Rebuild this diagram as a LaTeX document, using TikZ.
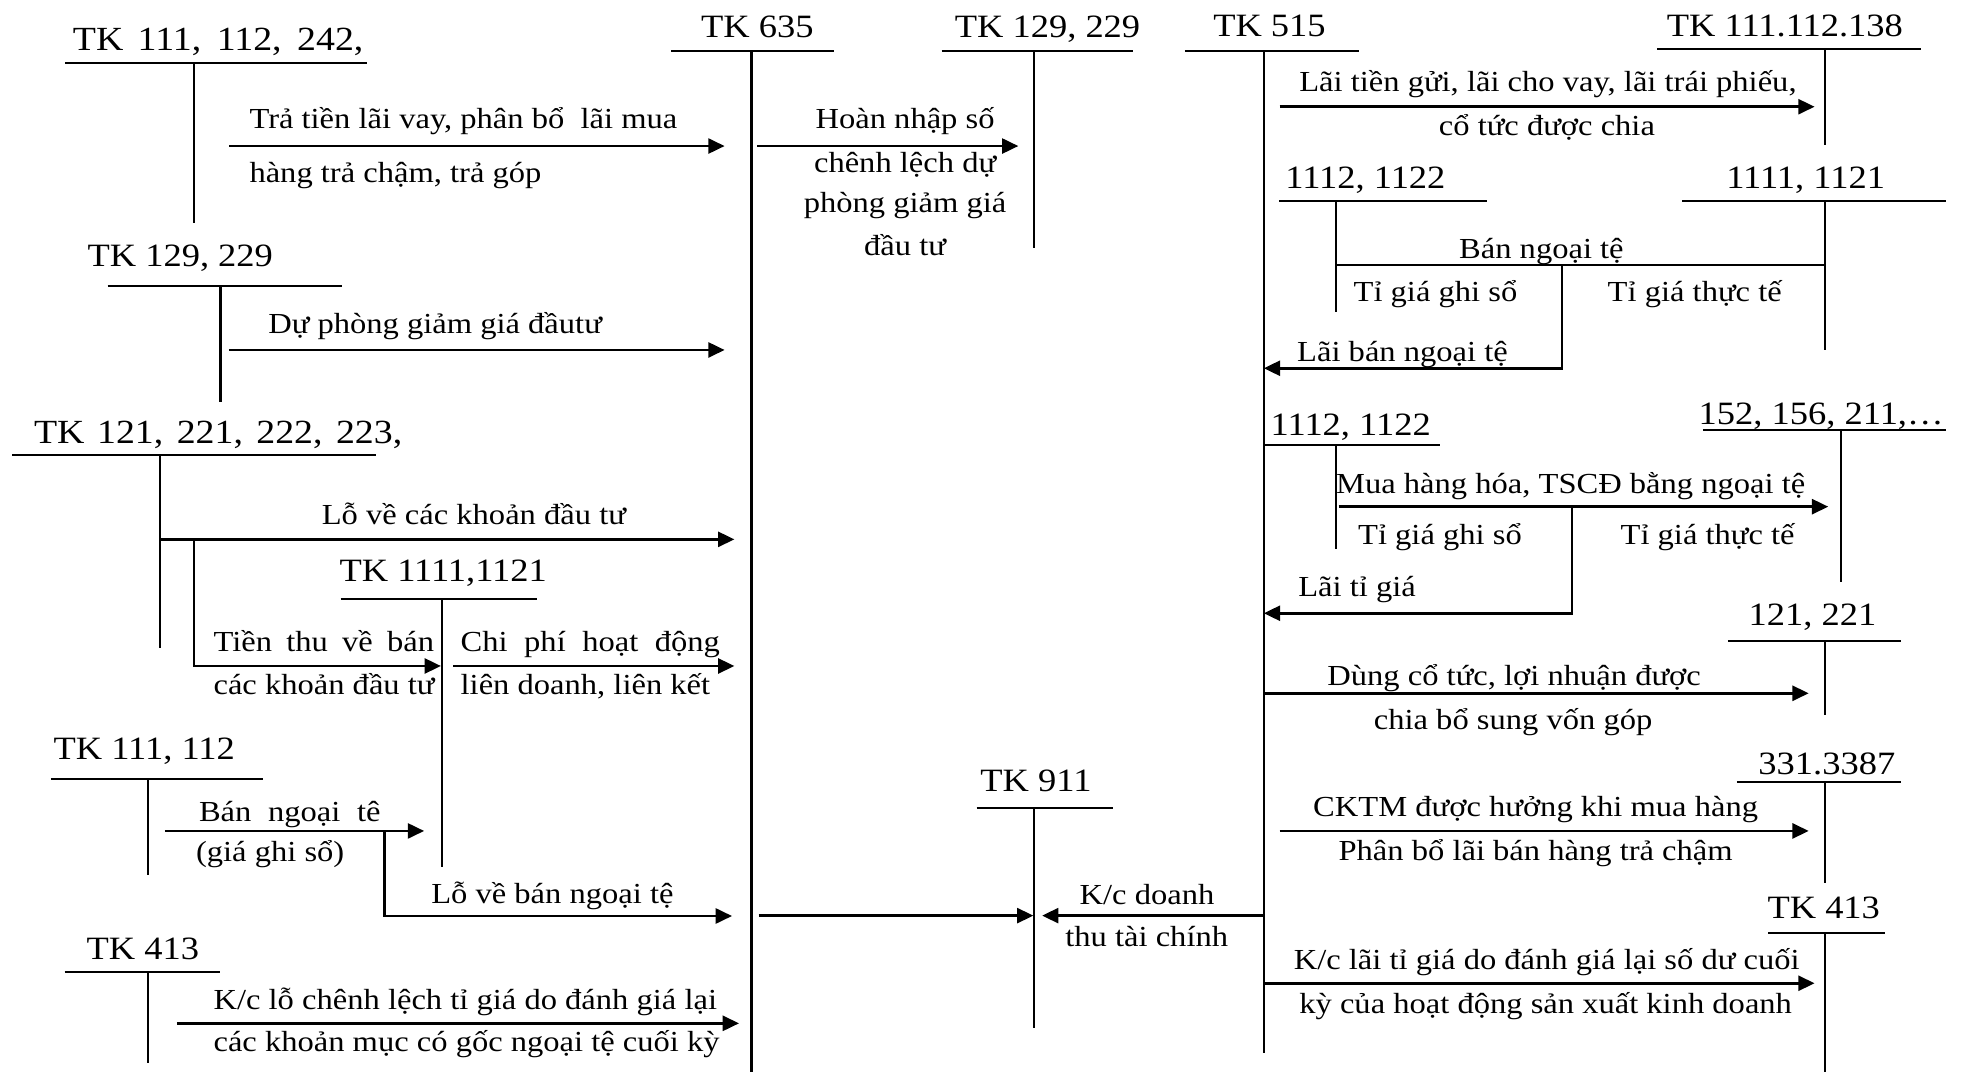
\documentclass[tikz,border=0pt]{standalone}
\usepackage{fontspec}
\setmainfont{Liberation Serif}[FakeStretch=1.12]
\usepackage{tikz}
\usetikzlibrary{arrows.meta}
\tikzset{
  acctitle/.style={font=\fontsize{26}{30}\selectfont, inner sep=0pt},
  bigtitle/.style={font=\fontsize{27}{31}\selectfont, inner sep=0pt},
  flowlabel/.style={font=\fontsize{23.2}{28}\selectfont, inner sep=0pt},
  tline/.style={line width=1.7pt},
  flowline/.style={line width=2pt},
  flowarrow/.style={flowline, -{Triangle[length=13pt, width=12pt]}}
}

\begin{document}
\begin{tikzpicture}[x=1pt, y=-1pt]

\useasboundingbox (0,0) rectangle (1568,856);

% --- Column positions ---
\def\xcp{600}
\def\xmid{825.3}
\def\xrev{1009}
\def\xright{1457}

% --- TK 635 (centre) ---
\node[acctitle, anchor=base] (t635) at (604.7,29.8) {TK 635};
\draw[tline] (536,40.5) -- (666,40.5);
\draw[tline] (\xcp,40.5) -- (\xcp,856);

% --- TK 111, 112, 242 ---
\node[bigtitle, anchor=base west] (t111a) at (58,40) {\makebox[232pt][s]{TK 111, 112, 242,}};
\draw[tline] (52,50) -- (293,50);
\draw[tline] (155,50) -- (155,178);
\draw[flowarrow] (183,116.6) -- (578.5,116.6);
\node[flowlabel, anchor=base west] (l1a) at (199,102.4) {Trả tiền lãi vay, phân bổ\ \ lãi mua};
\node[flowlabel, anchor=base west] (l1b) at (199,146) {hàng trả chậm, trả góp};

% --- TK 129, 229 (left) ---
\node[acctitle, anchor=base west] (t129a) at (69.7,212.9) {TK 129, 229};
\draw[tline] (86,228) -- (273,228);
\draw[tline] (176,228) -- (176,320.7);
\draw[flowarrow] (182.7,279.4) -- (578.5,279.4);
\node[flowlabel, anchor=base west] (l2) at (214,266) {Dự phòng giảm giá đầutư};

% --- TK 121, 221, 222, 223 ---
\node[bigtitle, anchor=base west] (t121a) at (27,354) {\makebox[294pt][s]{TK 121, 221, 222, 223,}};
\draw[tline] (9.7,363.2) -- (300,363.2);
\draw[tline] (127.7,363.2) -- (127.7,517.6);
\draw[flowarrow] (127.7,430.6) -- (586.3,430.6);
\node[flowlabel, anchor=base] (l3) at (378.3,419) {Lỗ về các khoản đầu tư};
\draw[flowarrow] (154.8,430.6) |- (352,531.7);
\node[flowlabel, anchor=base west] (l4a) at (170.3,520.3) {\makebox[176pt][s]{Tiền thu về bán}};
\node[flowlabel, anchor=base west] (l4b) at (170.3,554.8) {các khoản đầu tư};

% --- TK 1111,1121 (left) ---
\node[acctitle, anchor=base west] (t1111a) at (270.9,464.4) {TK 1111,1121};
\draw[tline] (272,478.5) -- (428.8,478.5);
\draw[tline] (353,478.5) -- (353,691.9);
\draw[flowarrow] (361.8,531.7) -- (586.3,531.7);
\node[flowlabel, anchor=base west] (l5a) at (367.6,520.3) {\makebox[207pt][s]{Chi phí hoạt động}};
\node[flowlabel, anchor=base west] (l5b) at (367.6,554.8) {liên doanh, liên kết};

% --- TK 111, 112 ---
\node[acctitle, anchor=base west] (t111b) at (42.6,606.2) {TK 111, 112};
\draw[tline] (40.6,622.2) -- (209.7,622.2);
\draw[tline] (118,622.2) -- (118,698.5);
\draw[flowarrow] (131.6,663.4) -- (338.6,663.4);
\node[flowlabel, anchor=base west] (l6a) at (158.7,656) {\makebox[145pt][s]{Bán ngoại tê}};
\node[flowlabel, anchor=base] (l6b) at (215.7,687.9) {(giá ghi sổ)};
\draw[flowarrow] (306.9,663.4) |- (584.4,731.3);
\node[flowlabel, anchor=base] (l7) at (441,721.2) {Lỗ về bán ngoại tệ};

% --- TK 413 (left) ---
\node[acctitle, anchor=base west] (t413a) at (68.9,765.9) {TK 413};
\draw[tline] (51.5,776.3) -- (176,776.3);
\draw[tline] (118,776.3) -- (118,848.9);
\draw[flowarrow] (141.3,817) -- (590,817);
\node[flowlabel, anchor=base west] (l8a) at (170.3,806.3) {K/c lỗ chênh lệch tỉ giá do đánh giá lại};
\node[flowlabel, anchor=base west] (l8b) at (170.3,839.6) {các khoản mục có gốc ngoại tệ cuối kỳ};

% --- TK 129, 229 (top) ---
\node[acctitle, anchor=base] (t129b) at (836.3,29.8) {TK 129, 229};
\draw[tline] (751.8,40.5) -- (904.5,40.5);
\draw[tline] (\xmid,40.5) -- (\xmid,198.3);
\draw[flowarrow] (604.4,116.6) -- (813,116.6);
\node[flowlabel, anchor=base] (l9a) at (722.6,102.5) {Hoàn nhập số};
\node[flowlabel, anchor=base] (l9b) at (722.6,137.9) {chênh lệch dự};
\node[flowlabel, anchor=base] (l9c) at (722.6,170) {phòng giảm giá};
\node[flowlabel, anchor=base] (l9d) at (722.6,203.6) {đầu tư};

% --- TK 911 ---
\node[acctitle, anchor=base] (t911) at (827.1,632) {TK 911};
\draw[tline] (779.6,644.8) -- (888.3,644.8);
\draw[tline] (\xmid,644.8) -- (\xmid,821);
\draw[flowarrow] (605.7,731) -- (825,731);
\draw[flowarrow] (\xrev,731) -- (832,731);
\node[flowlabel, anchor=base] (l10a) at (915.7,722.5) {K/c doanh};
\node[flowlabel, anchor=base] (l10b) at (915.5,755.8) {thu tài chính};

% --- TK 515 ---
\node[acctitle, anchor=base] (t515) at (1013.5,29.5) {TK 515};
\draw[tline] (946,40.5) -- (1085,40.5);
\draw[tline] (\xrev,40.5) -- (\xrev,841);

% --- TK 111.112.138 ---
\node[acctitle, anchor=base] (t138) at (1425,29.3) {TK 111.112.138};
\draw[tline] (1323,39) -- (1534,39);
\draw[tline] (\xright,39) -- (\xright,116);
\draw[flowarrow] (1021.6,85.2) -- (1448.7,85.2);
\node[flowlabel, anchor=base] (l11a) at (1235.8,73.2) {Lãi tiền gửi, lãi cho vay, lãi trái phiếu,};
\node[flowlabel, anchor=base] (l11b) at (1235,107.8) {cổ tức được chia};

% --- Bán ngoại tệ: 1112, 1122 / 1111, 1121 ---
\node[acctitle, anchor=base west] (t1112a) at (1026,150.3) {1112, 1122};
\draw[tline] (1021.5,160.5) -- (1187,160.5);
\draw[tline] (1066.3,160.5) -- (1066.3,248.8);
\node[acctitle, anchor=base west] (t1111b) at (1378,150.3) {1111, 1121};
\draw[tline] (1343,160.5) -- (1554,160.5);
\draw[tline] (\xright,160.5) -- (\xright,279.4);
\draw[flowline] (1066.3,211.6) -- (\xright,211.6);
\node[flowlabel, anchor=base] (l12) at (1230.6,206.2) {Bán ngoại tệ};
\node[flowlabel, anchor=base] (l12a) at (1146,240.8) {Tỉ giá ghi sổ};
\node[flowlabel, anchor=base] (l12b) at (1353,240.8) {Tỉ giá thực tế};
\draw[flowarrow] (1247,211.6) |- (\xrev,294);
\node[flowlabel, anchor=base] (l13) at (1119.7,288.5) {Lãi bán ngoại tệ};

% --- Mua hàng: 1112, 1122 / 152, 156, 211 ---
\node[acctitle, anchor=base west] (t1112b) at (1014.3,347.3) {1112, 1122};
\draw[tline] (\xrev,355.3) -- (1150,355.3);
\draw[tline] (1066.3,355.3) -- (1066.3,438.6);
\node[acctitle, anchor=base west] (t152) at (1356,339.3) {152, 156, 211,…};
\draw[tline] (1359.6,343.3) -- (1554,343.3);
\draw[tline] (1469.8,343.3) -- (1469.8,464.4);
\draw[flowarrow] (1068.8,404.5) -- (1459.6,404.5);
\node[flowlabel, anchor=base] (l14) at (1254,393.8) {Mua hàng hóa, TSCĐ bằng ngoại tệ};
\node[flowlabel, anchor=base] (l14a) at (1149.6,435) {Tỉ giá ghi sổ};
\node[flowlabel, anchor=base] (l14b) at (1363.3,435) {Tỉ giá thực tế};
\draw[flowarrow] (1255,404.5) |- (\xrev,489.6);
\node[flowlabel, anchor=base] (l15) at (1083.4,476.3) {Lãi tỉ giá};

% --- 121, 221 ---
\node[acctitle, anchor=base] (t121b) at (1447,499) {121, 221};
\draw[tline] (1379.5,511.5) -- (1517.6,511.5);
\draw[tline] (\xright,511.5) -- (\xright,570.8);
\draw[flowarrow] (\xrev,553.5) -- (1444,553.5);
\node[flowlabel, anchor=base] (l16a) at (1208.8,547) {Dùng cổ tức, lợi nhuận được};
\node[flowlabel, anchor=base] (l16b) at (1208,582.8) {chia bổ sung vốn góp};

% --- 331.3387 ---
\node[acctitle, anchor=base] (t331) at (1458.5,618.7) {331.3387};
\draw[tline] (1386.7,624.6) -- (1517.6,624.6);
\draw[tline] (\xright,624.6) -- (\xright,705.2);
\draw[flowarrow] (1021.6,663.4) -- (1444,663.4);
\node[flowlabel, anchor=base] (l17a) at (1226,652) {CKTM được hưởng khi mua hàng};
\node[flowlabel, anchor=base] (l17b) at (1226,686.6) {Phân bổ lãi bán hàng trả chậm};

% --- TK 413 (right) ---
\node[acctitle, anchor=base] (t413b) at (1456,733) {TK 413};
\draw[tline] (1411.5,744.6) -- (1505,744.6);
\draw[tline] (\xright,744.6) -- (\xright,856);
\draw[flowarrow] (\xrev,785) -- (1448.7,785);
\node[flowlabel, anchor=base] (l18a) at (1234.8,774.4) {K/c lãi tỉ giá do đánh giá lại số dư cuối};
\node[flowlabel, anchor=base] (l18b) at (1234,809) {kỳ của hoạt động sản xuất kinh doanh};

\end{tikzpicture}
\end{document}
